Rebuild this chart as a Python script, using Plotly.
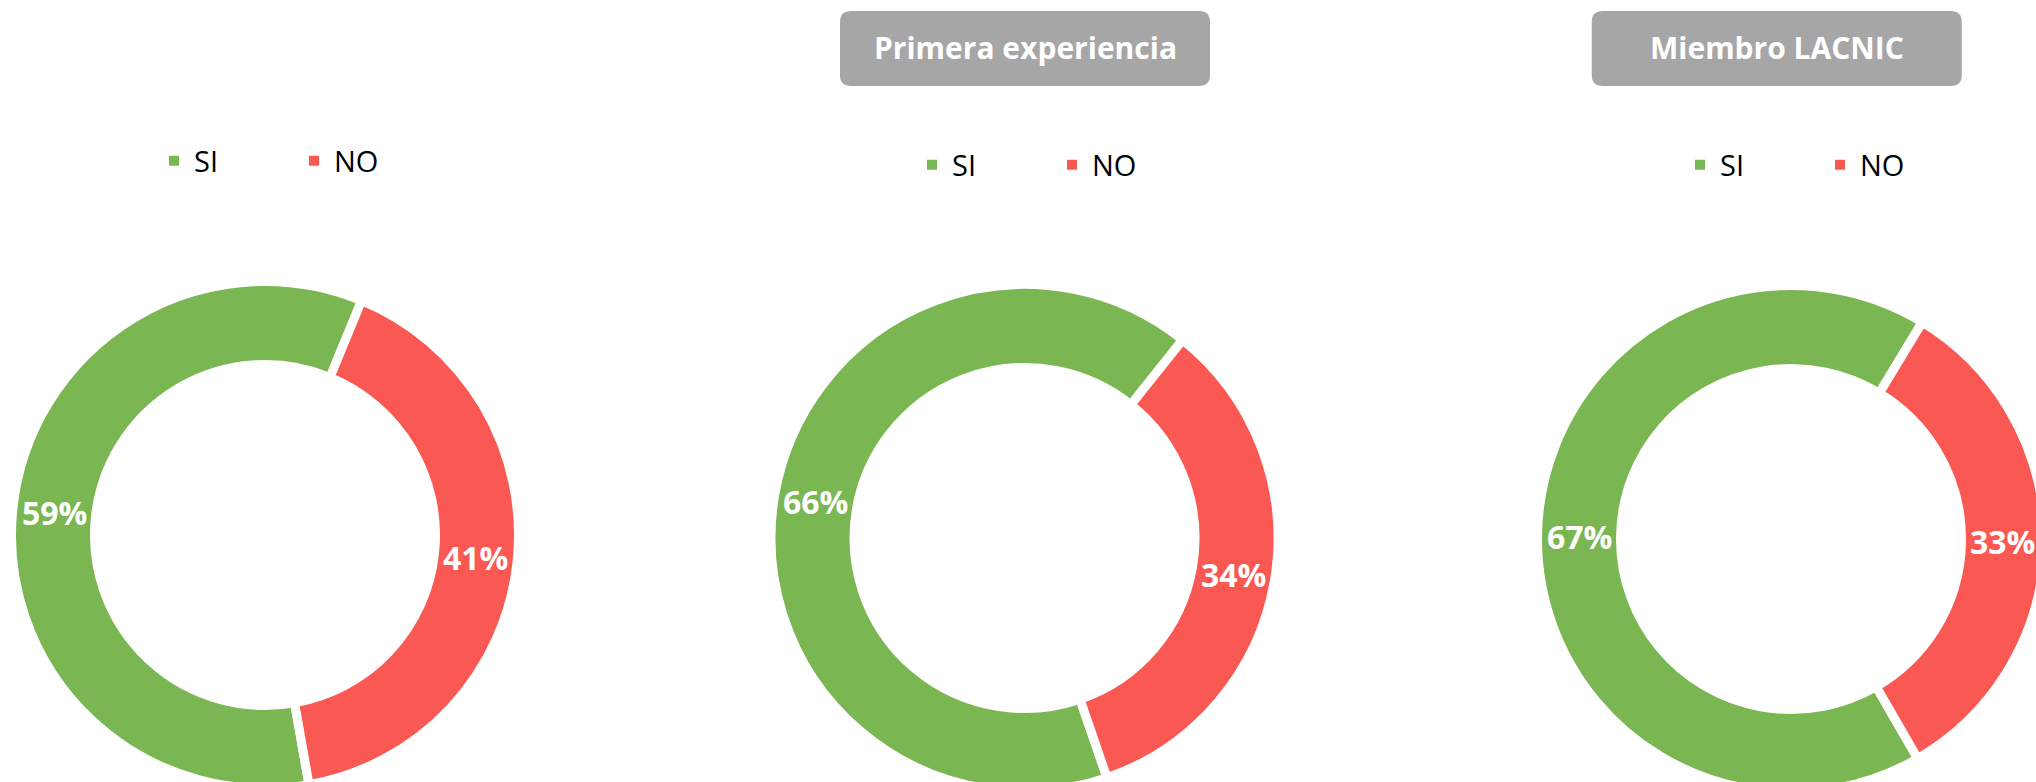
import math
import plotly.graph_objects as go

# ---- data ----
categories = ["SI", "NO"]
chart_titles = ["", "Primera experiencia", "Miembro LACNIC"]
values_general = [59, 41]
values_primera = [66, 34]
values_miembro = [67, 33]

# ---- style / layout (screen pixels) ----
OFF = 0
W, H = 2100, 820
colors = ["#7AB652", "#F95853"]
rotations = [170, 161, 150]           # start angle of first slice (clockwise from 12 o'clock)
centers = [(265, 535), (1024.5, 538), (1791, 539)]
LW = 9
R_PLOT = 253.5                        # pie radius incl. white stroke
HOLE = 0.6726
R_LABEL = 212
legend_ids = ["legend", "legend2", "legend3"]
legend_pos = [(294, 161), (1052, 165), (1820, 165)]
box_centers = [None, (1025, 48.5), (1776.75, 48.5)]
FONT = "Open Sans"


def px(x):
    return (x - OFF) / W


def py(y):
    return 1 - (y - OFF) / H


fig = go.Figure()
series = [values_general, values_primera, values_miembro]
annotations = []
for i, vals in enumerate(series):
    cx, cy = centers[i]
    fig.add_trace(go.Pie(
        labels=categories,
        values=vals,
        hole=HOLE,
        sort=False,
        direction="clockwise",
        rotation=rotations[i],
        marker=dict(colors=colors, line=dict(color="white", width=LW)),
        textinfo="none",
        domain=dict(x=[px(cx - R_PLOT), px(cx + R_PLOT)],
                    y=[py(cy + R_PLOT), py(cy - R_PLOT)]),
        legend=legend_ids[i],
        legendgroup=f"g{i}",
        showlegend=True,
    ))
    # percentage labels, horizontal, at each slice's mid-angle
    total = sum(vals)
    start = rotations[i]
    for v in vals:
        span = 360.0 * v / total
        mid = math.radians(start + span / 2)
        start += span
        annotations.append(dict(
            text=f"{100 * v / total:.0f}%",
            x=px(cx + R_LABEL * math.sin(mid)),
            y=py(cy - R_LABEL * math.cos(mid)),
            xref="paper", yref="paper", xanchor="center", yanchor="middle",
            showarrow=False,
            font=dict(family=FONT, size=32, color="white", weight="bold"),
        ))

leg_common = dict(
    orientation="h", xanchor="center", yanchor="middle",
    font=dict(family=FONT, size=29, color="black"),
    bgcolor="rgba(0,0,0,0)", entrywidth=95, entrywidthmode="pixels",
    traceorder="normal", itemsizing="constant",
)
legends = {}
for lid, (lx, ly) in zip(legend_ids, legend_pos):
    legends[lid] = dict(x=px(lx), y=py(ly), **leg_common)


def rounded_rect(w, h, r):
    x0, x1, y0, y1 = -w / 2, w / 2, -h / 2, h / 2
    return (f"M{x0 + r},{y0} L{x1 - r},{y0} Q{x1},{y0} {x1},{y0 + r} "
            f"L{x1},{y1 - r} Q{x1},{y1} {x1 - r},{y1} L{x0 + r},{y1} "
            f"Q{x0},{y1} {x0},{y1 - r} L{x0},{y0 + r} Q{x0},{y0} {x0 + r},{y0} Z")


shapes = []
for title, c in zip(chart_titles, box_centers):
    if not title:
        continue
    cx, cy = c
    shapes.append(dict(
        type="path", xref="paper", yref="paper",
        xsizemode="pixel", ysizemode="pixel",
        xanchor=px(cx), yanchor=py(cy),
        path=rounded_rect(370, 75, 11),
        fillcolor="#A6A6A6", line=dict(width=0), layer="below",
    ))
    annotations.append(dict(
        text=title, x=px(cx), y=py(cy - 1), xref="paper", yref="paper",
        xanchor="center", yanchor="middle", showarrow=False,
        font=dict(family=FONT, size=30, color="white", weight="bold"),
    ))

fig.update_layout(
    width=W, height=H,
    margin=dict(l=0, r=0, t=0, b=0),
    paper_bgcolor="white", plot_bgcolor="white",
    shapes=shapes, annotations=annotations,
    **legends,
)

# the figure is larger than the window on purpose (the bottom/right rings are cut
# off in the reference); drop the default page margin and hide scrollbars
page_css = ("document.documentElement.style.overflow='hidden';"
            "document.body.style.margin='0';"
            "document.body.style.overflow='hidden';")
fig.write_html("out.html", post_script=page_css)
